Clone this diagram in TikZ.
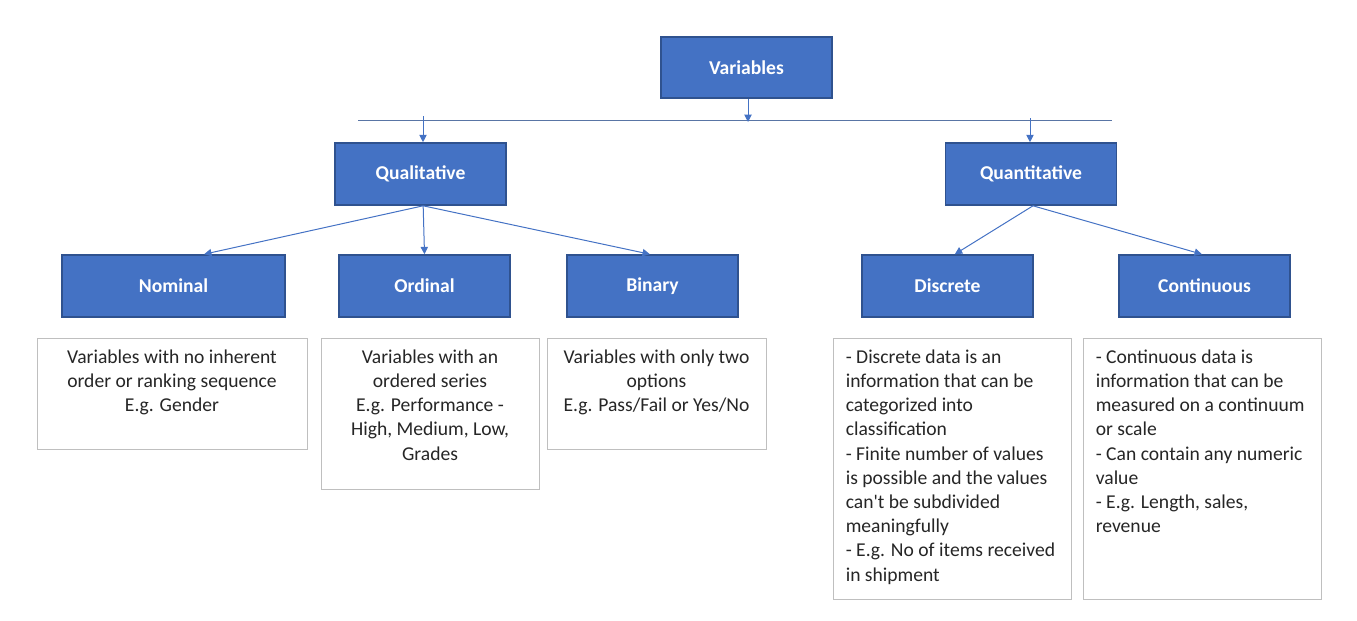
\documentclass[tikz,border=0pt]{standalone}
\usepackage{fontspec}
\setmainfont{Carlito}
\usetikzlibrary{arrows.meta, positioning}
\definecolor{boxblue}{HTML}{4472C4}
\definecolor{boxedge}{HTML}{2F528F}
\definecolor{linkblue}{HTML}{4472C4}
\definecolor{rulegray}{HTML}{BFBFBF}

\begin{document}
\begin{tikzpicture}[
        x=0.75pt, y=-0.75pt,
        catbox/.style={rectangle, draw=boxedge, line width=1.2pt, fill=boxblue, minimum width=128.25pt, minimum height=46.5pt, inner sep=0pt, text=white, font=\fontsize{14.7}{18}\selectfont\bfseries},
        descbox/.style={rectangle, draw=rulegray, line width=0.75pt, fill=white, inner sep=0pt},
        desctext/.style={inner sep=0pt, text=black!85, font=\fontsize{14.7}{18.15}\selectfont},
        link/.style={draw=linkblue, line width=0.75pt, -{Triangle[length=5.5pt, width=5.5pt]}}
    ]
        \useasboundingbox (0,0) rectangle (1357,621);

        % Root and splitter line
        \node[catbox, minimum height=45.75pt] (var) at (746.5, 67.5) {Variables};
        \coordinate (lineW) at (358, 120);
        \coordinate (lineE) at (1112, 120);
        \draw[draw=boxedge!80, line width=0.75pt] (lineW) -- (lineE);

        % Second level
        \node[catbox] (qual) at (420.5, 174) {Qualitative};
        \node[catbox] (quant) at (1031, 174) {Quantitative};

        % Third level
        \node[catbox, minimum width=167.25pt] (nom) at (173.5, 286) {Nominal};
        \node[catbox] (ord) at (424.5, 286) {Ordinal};
        \node[catbox] (bin) at (652.5, 286) {Binary};
        \node[catbox] (disc) at (947.5, 286) {Discrete};
        \node[catbox] (cont) at (1204.5, 286) {Continuous};

        % Flows: root to splitter and splitter to second level
        \coordinate (hubV) at (748, 122);
        \coordinate (hubQl) at (423, 116);
        \coordinate (hubQn) at (1030, 118);
        \draw[link] (var.south -| hubV) -- (hubV);
        \draw[link] (hubQl) -- (qual.north -| hubQl);
        \draw[link] (hubQn) -- (quant.north -| hubQn);

        % Flows: second to third level
        \draw[link] ([xshift=2pt]qual.south) -- ([xshift=23pt]nom.north);
        \draw[link] ([xshift=2pt]qual.south) -- (ord.north);
        \draw[link] ([xshift=2pt]qual.south) -- ([xshift=-2pt]bin.north);
        \draw[link] ([xshift=1.5pt]quant.south) -- ([xshift=5.5pt]disc.north);
        \draw[link] ([xshift=1.5pt]quant.south) -- ([xshift=-2pt]cont.north);

        % Description boxes
        \node[descbox, minimum width=202.5pt, minimum height=83.25pt] (nomD) at (172, 393.5) {};
        \node[descbox, minimum width=163.5pt, minimum height=113.25pt] (ordD) at (430, 413.5) {};
        \node[descbox, minimum width=164.25pt, minimum height=83.25pt] (binD) at (656.5, 393.5) {};
        \node[descbox, minimum width=178.5pt, minimum height=195.75pt] (discD) at (952, 468.5) {};
        \node[descbox, minimum width=178.5pt, minimum height=195.75pt] (contD) at (1202, 468.5) {};

        \node[desctext, align=center, below=9pt of nomD.north] (nomT) {Variables with no inherent\\order or ranking sequence\\E.g. Gender};
        \node[desctext, align=center, below=9pt of ordD.north] (ordT) {Variables with an\\ordered series\\E.g. Performance -\\High, Medium, Low,\\Grades};
        \node[desctext, align=center, below=9pt of binD.north] (binT) {Variables with only two\\options\\E.g. Pass/Fail or Yes/No};
        \node[desctext, align=left, below right=9pt and 9.75pt of discD.north west] (discT) {- Discrete data is an\\information that can be\\categorized into\\classification\\- Finite number of values\\is possible and the values\\can\textquotesingle t be subdivided\\meaningfully\\- E.g. No of items received\\in shipment};
        \node[desctext, align=left, below right=9pt and 9.75pt of contD.north west] (contT) {- Continuous data is\\information that can be\\measured on a continuum\\or scale\\- Can contain any numeric\\value\\- E.g. Length, sales,\\revenue};

    \end{tikzpicture}
\end{document}
